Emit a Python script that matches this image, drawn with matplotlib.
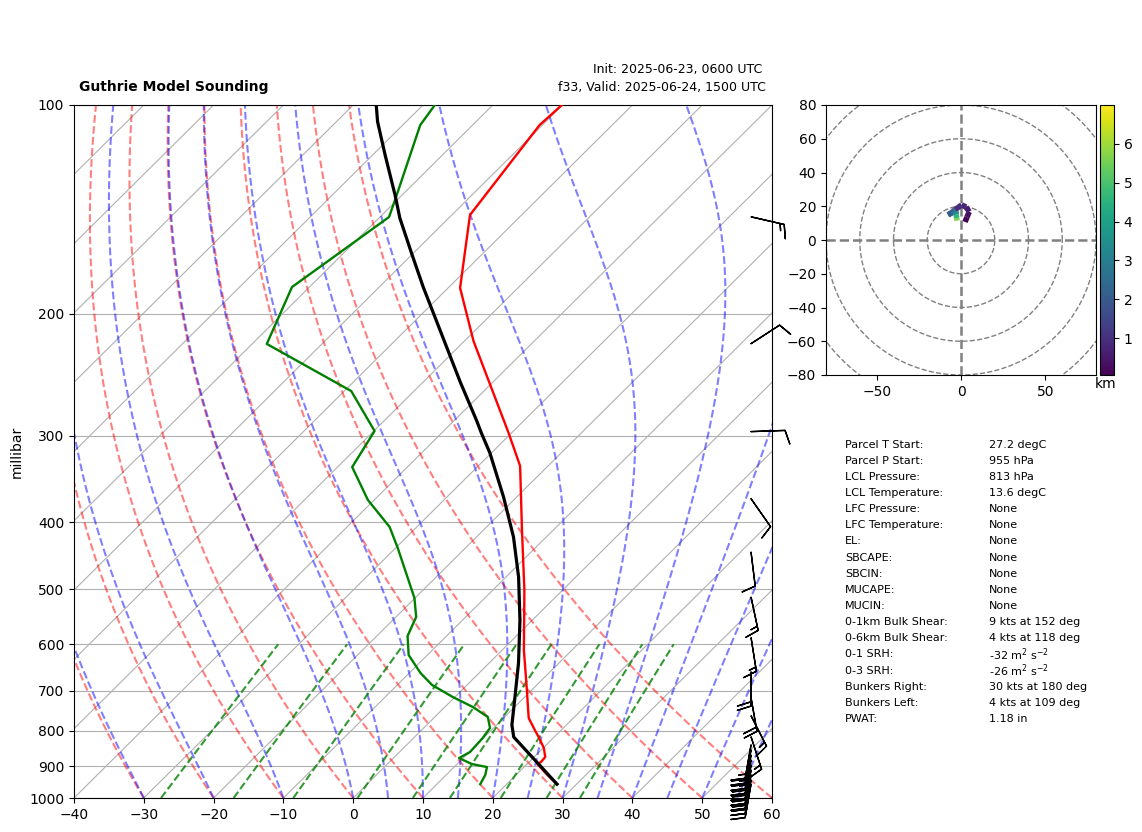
import numpy as np
import matplotlib as mpl
mpl.use('Agg')
import matplotlib.pyplot as plt
from matplotlib.collections import LineCollection

# temperature profile
t_pres = [100, 106.9, 144.1, 183.6, 219.1, 297.4, 331.8, 410.4, 500.9, 611.6, 653.6, 698.5, 739, 766.6, 797.7,
          822, 847, 872.7, 887.4, 893.3, 926.4, 955]
t_vals = [-70.1, -70.4, -67.4, -58.3, -48.7, -30.4, -24.0, -14.5, -5.5, 3.1, 6.2, 9.3, 11.9, 13.6, 16.2,
          18.2, 20.1, 21.6, 21.7, 21.5, 24.5, 27.2]

# dewpoint profile
td_pres = [100, 106.9, 137.1, 145.1, 183.1, 221.2, 258.7, 295.4, 333, 371.5, 406.3, 435.7, 514.4, 548, 583.6,
           621.7, 660.1, 687, 715, 739, 764, 792.5, 819.3, 858.5, 875.7, 893.3, 902.3, 926.4, 955]
td_vals = [-88.3, -87.5, -80.3, -78.7, -82.5, -77.9, -59.0, -49.9, -47.9, -40.9, -33.9, -29.7, -20.1, -17.1, -15.6,
           -12.7, -8.4, -5.0, -0.3, 4.0, 7.6, 9.5, 9.9, 10.1, 9.4, 12.1, 14.7, 15.6, 16.2]

# parcel path
parcel_pres = [100, 105.7, 118.1, 134.9, 145.6, 163.5, 183.1, 199.6, 220.5, 251, 284.8, 297.4, 317.8, 367.8,
               420.1, 479.8, 553.5, 638.5, 722.3, 784.6, 816.6, 955]
parcel_vals = [-96.7, -94.1, -88.2, -81.0, -77.0, -70.3, -63.7, -58.5, -52.5, -44.7, -36.9, -34.3, -30.2, -21.9,
               -14.7, -8.2, -1.8, 4.2, 9.0, 12.2, 14.2, 27.2]

# wind barbs
barb_pres = [145, 221, 296, 370, 442, 513, 587, 658, 717, 761, 816, 838, 852, 867, 881, 896, 911, 926, 942, 955]
barb_dir = [103, 57, 88, 145, 173, 168, 171, 180, 170, 153, 162, 190, 190, 190, 190, 190, 190, 190, 190, 190]
barb_spd = [15, 10, 10, 10, 10, 15, 15, 20, 20, 15, 15, 15, 20, 25, 25, 30, 30, 30, 30, 30]

# hodograph
hodo_u = [2.4, 3.5, 4.9, 3.0, 0.4, -3.6, -5.5, -7.7, -5.5, -3.0, -2.8, -2.6, -2.4]
hodo_v = [10.7, 13.5, 16.7, 19.5, 20.8, 17.9, 16.3, 14.9, 16.0, 17.0, 15.0, 13.0, 11.5]
hodo_z = [0.05, 0.3, 0.6, 0.8, 1.0, 1.4, 1.7, 2.1, 2.6, 3.4, 4.6, 5.6, 7.0]

# table on the right
param_names = ['Parcel T Start:', 'Parcel P Start:', 'LCL Pressure:', 'LCL Temperature:', 'LFC Pressure:',
               'LFC Temperature:', 'EL:', 'SBCAPE:', 'SBCIN:', 'MUCAPE:', 'MUCIN:', '0-1km Bulk Shear:',
               '0-6km Bulk Shear:', '0-1 SRH:', '0-3 SRH:', 'Bunkers Right:', 'Bunkers Left:', 'PWAT:']
param_vals = ['27.2 degC', '955 hPa', '813 hPa', '13.6 degC', 'None', 'None', 'None', 'None', 'None', 'None', 'None',
              '9 kts at 152 deg', '4 kts at 118 deg', '-32 m$^{2}$ s$^{-2}$', '-26 m$^{2}$ s$^{-2}$',
              '30 kts at 180 deg', '4 kts at 109 deg', '1.18 in']

mix_ratios = [0.0004, 0.001, 0.002, 0.004, 0.007, 0.01, 0.016, 0.024, 0.032]
p_ticks = [100, 200, 300, 400, 500, 600, 700, 800, 900, 1000]

W, H = 1142, 832
SKEW = 100.0


def skew(t, p):
    return np.asarray(t) + SKEW * np.log10(1000.0 / np.asarray(p))


def px_axes(left, top, right, bottom):
    return fig.add_axes([left / W, (H - bottom) / H, (right - left) / W, (bottom - top) / H])


def moist_lapse(t0, pres):
    # simple RK4 from 1000 hPa upward, pres is descending
    def slope(t, p):
        es = 6.112 * np.exp(17.67 * (t - 273.15) / (t - 29.65))
        rs = 0.622 * es / (p - es)
        return (287.04 * t + 2.501e6 * rs) / (1005.7 + 2.501e6 ** 2 * rs * 0.622 / (287.04 * t ** 2)) / p
    out = [t0 + 273.15]
    for i in range(len(pres) - 1):
        p = pres[i]
        h = pres[i + 1] - p
        t = out[-1]
        k1 = slope(t, p)
        k2 = slope(t + h * k1 / 2, p + h / 2)
        k3 = slope(t + h * k2 / 2, p + h / 2)
        k4 = slope(t + h * k3, p + h)
        out.append(t + h * (k1 + 2 * k2 + 2 * k3 + k4) / 6)
    return np.array(out) - 273.15


fig = plt.figure(figsize=(W / 100, H / 100), dpi=100)
ax = px_axes(74, 105, 772, 798)
ax.set_yscale('log')
ax.set_ylim(1000, 100)
ax.set_xlim(-40, 60)
ax.set_yticks(p_ticks)
ax.set_yticklabels([str(p) for p in p_ticks])
ax.minorticks_off()
ax.set_xticks(np.arange(-40, 61, 10))
ax.set_ylabel('millibar')
ax.yaxis.set_label_coords(-50 / 698, 0.5)
ax.grid(True, axis='y', color='#b0b0b0', lw=0.8)

# isotherms
pp = np.array([100.0, 1000.0])
for t in np.arange(-140, 61, 10):
    ax.plot(skew([t, t], pp), pp, color='#b0b0b0', lw=0.8, zorder=1)

pres = np.linspace(1000, 100, 300)
for t0 in np.arange(-40, 61, 10):
    t = (t0 + 273.15) * (pres / 1000.0) ** 0.2857 - 273.15
    ax.plot(skew(t, pres), pres, '--', color='r', alpha=0.5, lw=1.5, zorder=2)

for t0 in np.concatenate((np.arange(-40, 0, 10), np.arange(0, 61, 5))):
    t = moist_lapse(float(t0), pres)
    ax.plot(skew(t, pres), pres, '--', color='b', alpha=0.5, lw=1.5, zorder=2)

pres_mix = np.linspace(1000, 600, 50)
for w in mix_ratios:
    e = pres_mix * w / (0.622 + w)
    val = np.log(e / 6.112)
    t = 243.5 * val / (17.67 - val)
    ax.plot(skew(t, pres_mix), pres_mix, '--', color='g', alpha=0.8, lw=1.5, zorder=2)

ax.plot(skew(t_vals, t_pres), t_pres, color='r', lw=1.7, zorder=4)
ax.plot(skew(td_vals, td_pres), td_pres, color='g', lw=1.7, zorder=4)
ax.plot(skew(parcel_vals, parcel_pres), parcel_pres, color='k', lw=2.3, zorder=5)

u = -np.array(barb_spd) * np.sin(np.radians(barb_dir))
v = -np.array(barb_spd) * np.cos(np.radians(barb_dir))
ax.barbs(np.full(len(barb_pres), 0.97), barb_pres, u, v, transform=ax.get_yaxis_transform(),
         clip_on=False, length=7, zorder=6)

fig.text(79 / W, 1 - 87.5 / H, 'Guthrie Model Sounding', fontweight='bold', fontsize=10, va='center')
fig.text(762 / W, 1 - 70 / H, 'Init: 2025-06-23, 0600 UTC', fontsize=9, ha='right', va='center')
fig.text(766 / W, 1 - 88 / H, 'f33, Valid: 2025-06-24, 1500 UTC', fontsize=9, ha='right', va='center')

# hodograph
hax = px_axes(826, 105, 1096, 375)
hax.set_xlim(-80, 80)
hax.set_ylim(-80, 80)
hax.set_yticks(np.arange(-80, 81, 20))
hax.set_xticks([-50, 0, 50])
for r in [20, 40, 60, 80, 100]:
    th = np.linspace(0, 2 * np.pi, 300)
    hax.plot(r * np.cos(th), r * np.sin(th), '--', color='gray', lw=1)
hax.axhline(0, color='gray', ls='--', lw=1.8)
hax.axvline(0, color='gray', ls='--', lw=1.8)

pts = np.column_stack([hodo_u, hodo_v]).reshape(-1, 1, 2)
segs = np.concatenate([pts[:-1], pts[1:]], axis=1)
lc = LineCollection(segs, cmap='viridis', norm=plt.Normalize(0.05, 7.0), lw=4, zorder=5)
lc.set_array(np.array(hodo_z[:-1]))
hax.add_collection(lc)

cax = px_axes(1100, 105, 1114, 375)
cb = fig.colorbar(lc, cax=cax)
cb.set_ticks([1, 2, 3, 4, 5, 6])
fig.text(1106 / W, 1 - 384 / H, 'km', fontsize=10, ha='center', va='center')

for i in range(len(param_names)):
    y = 444.5 + i * 16.15
    fig.text(845 / W, 1 - y / H, param_names[i], fontsize=8, va='center')
    fig.text(989 / W, 1 - y / H, param_vals[i], fontsize=8, va='center')

plt.savefig('out.png', dpi=100)
